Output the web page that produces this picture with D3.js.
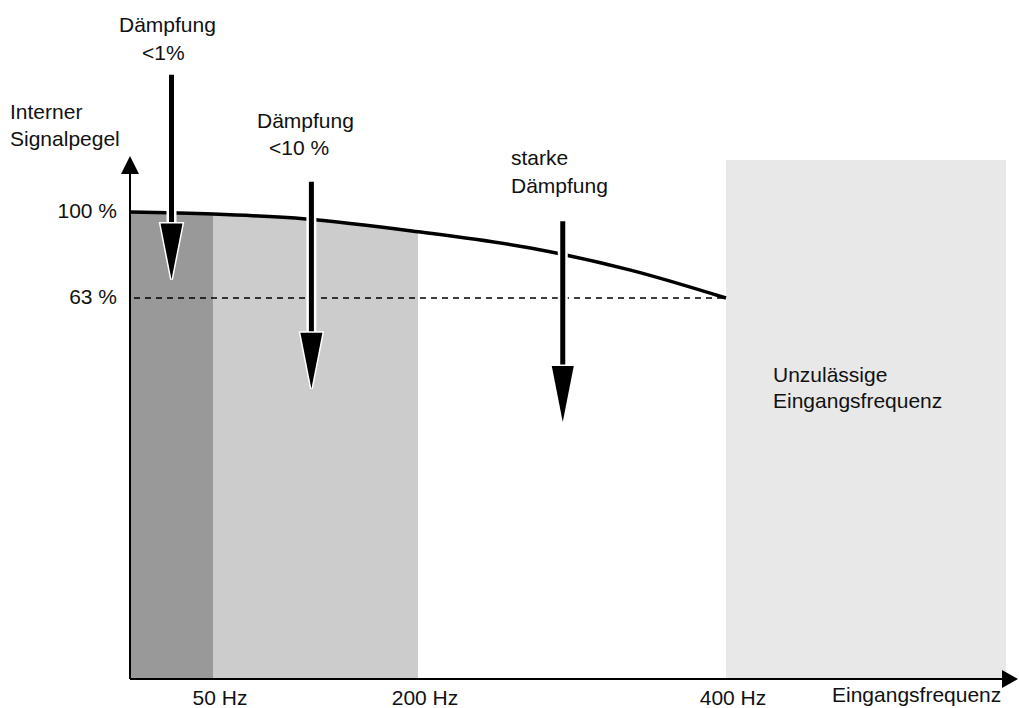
<!DOCTYPE html>
<html lang="de">
<head>
  <meta charset="utf-8">
  <title>Interner Signalpegel</title>
  <script src="https://cdnjs.cloudflare.com/ajax/libs/d3/7.8.5/d3.min.js"></script>
  <style>
  body { margin: 0; background: #fff; }
  svg text { font-family: "Liberation Sans", Arial, sans-serif; font-size: 21px; fill: #111; }
  </style>
</head>
<body>
<svg id="chart"></svg>
<script>
// frequency band edges (Hz) and their tick labels
var bandEdges = [0, 50, 200, 400];
var tickHz = [50, 200, 400];
var tickLabels = ["50 Hz", "200 Hz", "400 Hz"];

// signal level curve (Hz -> %)
var curveHz = [0, 50, 118, 200, 273, 338, 400];
var curvePct = [100, 99.1, 97, 91.5, 84.5, 75, 63];

// level ticks
var levelTicks = [100, 63];
var levelLabels = ["100 %", "63 %"];

// attenuation arrows: position (Hz), start and tip level (%)
var arrowHz = [25, 122, 294];
var arrowFrom = [159, 113, 96];
var arrowTo = [71, 24, 9.6];

var w = 1019, h = 708;
var plotLeft = 130, plotBottom = 679, plotTop = 156, plotRight = 1018;

var svg = d3.select("#chart").attr("width", w).attr("height", h);

// piecewise scale, the drawing is schematic
var x = d3.scaleLinear().domain([0, 50, 200, 400, 580]).range([130, 213, 418, 726, 1006]);
var y = d3.scaleLinear().domain([63, 100]).range([298, 212]);
var level = d3.scaleLinear().domain(curveHz).range(curvePct);

var bandFill = ["#999999", "#cccccc"];

function curveY(hz) {
  return y(level(hz));
}

// shaded bands under the curve
var bands = d3.range(bandEdges.length - 2).map(function(i) { return [bandEdges[i], bandEdges[i + 1]]; });
svg.append("g").selectAll("path")
  .data(bands)
  .enter().append("path")
  .attr("fill", function(d, i) { return bandFill[i]; })
  .attr("d", function(d) {
    var pts = [];
    var n = 30;
    for (var k = 0; k <= n; k++) {
      var hz = d[0] + (d[1] - d[0]) * k / n;
      pts.push([x(hz), curveY(hz)]);
    }
    pts.push([x(d[1]), plotBottom], [x(d[0]), plotBottom]);
    return "M" + pts.join("L") + "Z";
  });

// forbidden zone
svg.append("rect")
  .attr("x", x(400)).attr("y", 160)
  .attr("width", x(580) - x(400)).attr("height", plotBottom - 160)
  .attr("fill", "#e8e8e8");

svg.append("text").attr("x", 773).attr("y", 382).text("Unzulässige");
svg.append("text").attr("x", 773).attr("y", 408).text("Eingangsfrequenz");

// 63 % line
svg.append("line")
  .attr("x1", plotLeft + 4).attr("x2", x(400))
  .attr("y1", y(63)).attr("y2", y(63))
  .attr("stroke", "#000").attr("stroke-width", 1.4)
  .attr("stroke-dasharray", "6,5");

var curveLine = d3.line()
  .x(function(d, i) { return x(curveHz[i]); })
  .y(function(d, i) { return y(curvePct[i]); })
  .curve(d3.curveMonotoneX);

svg.append("path")
  .attr("d", curveLine(curveHz))
  .attr("fill", "none")
  .attr("stroke", "#000")
  .attr("stroke-width", 3.5);

// arrows
var headLen = 56, headW = 11;
var arrows = svg.append("g").selectAll("g")
  .data(arrowHz)
  .enter().append("g");

arrows.append("line")
  .attr("x1", function(d) { return x(d); }).attr("x2", function(d) { return x(d); })
  .attr("y1", function(d, i) { return y(arrowFrom[i]); })
  .attr("y2", function(d, i) { return y(arrowTo[i]) - headLen; })
  .attr("stroke", "#fff").attr("stroke-width", 10);
arrows.append("line")
  .attr("x1", function(d) { return x(d); }).attr("x2", function(d) { return x(d); })
  .attr("y1", function(d, i) { return y(arrowFrom[i]); })
  .attr("y2", function(d, i) { return y(arrowTo[i]) - headLen + 2; })
  .attr("stroke", "#000").attr("stroke-width", 5);
arrows.append("path")
  .attr("d", function(d, i) {
    var cx = x(d), ty = y(arrowTo[i]);
    return "M" + (cx - headW) + "," + (ty - headLen) + "L" + (cx + headW) + "," + (ty - headLen) + "L" + cx + "," + ty + "Z";
  })
  .attr("fill", "#000").attr("stroke", "#fff").attr("stroke-width", 3)
  .attr("stroke-linejoin", "miter").style("paint-order", "stroke");

// axes with arrow heads
svg.append("line")
  .attr("x1", plotLeft).attr("x2", plotLeft).attr("y1", plotBottom).attr("y2", plotTop + 16)
  .attr("stroke", "#000").attr("stroke-width", 2);
svg.append("path")
  .attr("d", "M" + (plotLeft - 9) + "," + (plotTop + 18) + "L" + (plotLeft + 9) + "," + (plotTop + 18) + "L" + plotLeft + "," + plotTop + "Z")
  .attr("fill", "#000");
svg.append("line")
  .attr("x1", plotLeft).attr("x2", plotRight - 14).attr("y1", plotBottom).attr("y2", plotBottom)
  .attr("stroke", "#000").attr("stroke-width", 2);
svg.append("path")
  .attr("d", "M" + (plotRight - 16) + "," + (plotBottom - 9) + "L" + (plotRight - 16) + "," + (plotBottom + 9) + "L" + plotRight + "," + plotBottom + "Z")
  .attr("fill", "#000");

// tick labels
svg.append("g").selectAll("text")
  .data(tickHz)
  .enter().append("text")
  .attr("x", function(d) { return x(d) + 7; })
  .attr("y", 705)
  .attr("text-anchor", "middle")
  .text(function(d, i) { return tickLabels[i]; });

svg.append("g").selectAll("text")
  .data(levelTicks)
  .enter().append("text")
  .attr("x", 117)
  .attr("y", function(d) { return y(d) + 6; })
  .attr("text-anchor", "end")
  .text(function(d, i) { return levelLabels[i]; });

svg.append("text").attr("x", 832).attr("y", 702).text("Eingangsfrequenz");
svg.append("text").attr("x", 10).attr("y", 119).text("Interner");
svg.append("text").attr("x", 10).attr("y", 146).text("Signalpegel");

// annotation texts
svg.append("text").attr("x", 119).attr("y", 32).text("Dämpfung");
svg.append("text").attr("x", 142).attr("y", 60).text("<1%");
svg.append("text").attr("x", 257).attr("y", 128).text("Dämpfung");
svg.append("text").attr("x", 269).attr("y", 155).text("<10 %");
svg.append("text").attr("x", 511).attr("y", 165).text("starke");
svg.append("text").attr("x", 511).attr("y", 193).text("Dämpfung");
</script>
</body>
</html>
